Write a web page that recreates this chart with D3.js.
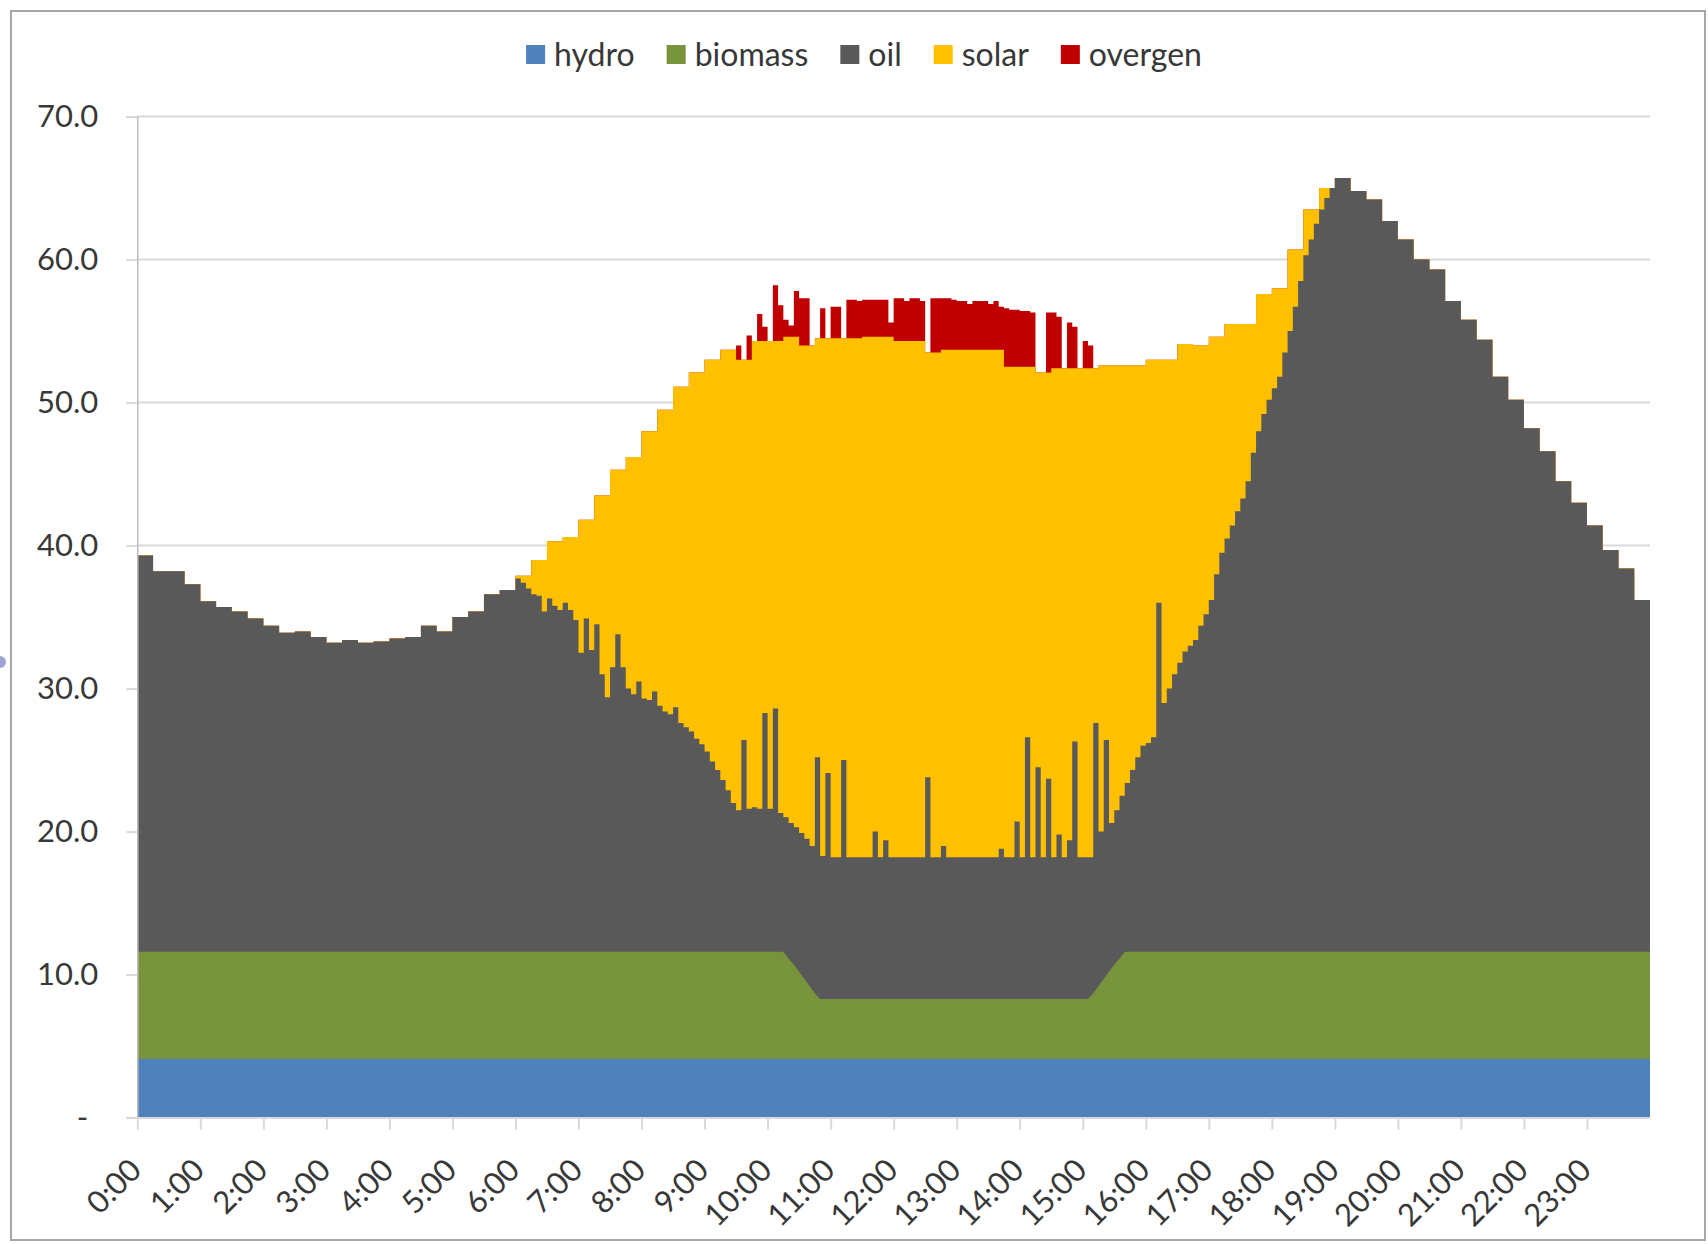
<!DOCTYPE html>
<html>
<head>
<meta charset="utf-8">
<script src="https://cdn.jsdelivr.net/npm/d3@7"></script>
<style>
  html, body { margin: 0; padding: 0; background: #fff; }
  text { font-family: Lato, "Open Sans", sans-serif; fill: #383838; }
</style>
</head>
<body>
<svg id="chart" width="1708" height="1244"></svg>
<script>
// hour tick labels
let hour_labels = ['0:00','1:00','2:00','3:00','4:00','5:00','6:00','7:00','8:00','9:00','10:00','11:00',
	'12:00','13:00','14:00','15:00','16:00','17:00','18:00','19:00','20:00','21:00','22:00','23:00'];

let series_keys = ['hydro', 'biomass', 'oil', 'solar', 'overgen'];

// hydro, one value per hour
let hydro = [4.1,4.1,4.1,4.1,4.1,4.1,4.1,4.1,4.1,4.1,4.1,4.1,4.1,4.1,4.1,4.1,4.1,4.1,4.1,4.1,4.1,4.1,4.1,4.1];

// biomass, 5-minute values (one row per hour)
let biomass = [
	7.5,7.5,7.5,7.5,7.5,7.5,7.5,7.5,7.5,7.5,7.5,7.5,
	7.5,7.5,7.5,7.5,7.5,7.5,7.5,7.5,7.5,7.5,7.5,7.5,
	7.5,7.5,7.5,7.5,7.5,7.5,7.5,7.5,7.5,7.5,7.5,7.5,
	7.5,7.5,7.5,7.5,7.5,7.5,7.5,7.5,7.5,7.5,7.5,7.5,
	7.5,7.5,7.5,7.5,7.5,7.5,7.5,7.5,7.5,7.5,7.5,7.5,
	7.5,7.5,7.5,7.5,7.5,7.5,7.5,7.5,7.5,7.5,7.5,7.5,
	7.5,7.5,7.5,7.5,7.5,7.5,7.5,7.5,7.5,7.5,7.5,7.5,
	7.5,7.5,7.5,7.5,7.5,7.5,7.5,7.5,7.5,7.5,7.5,7.5,
	7.5,7.5,7.5,7.5,7.5,7.5,7.5,7.5,7.5,7.5,7.5,7.5,
	7.5,7.5,7.5,7.5,7.5,7.5,7.5,7.5,7.5,7.5,7.5,7.5,
	7.5,7.5,7.5,7.5,7.0,6.6,6.1,5.6,5.1,4.6,4.2,4.2,
	4.2,4.2,4.2,4.2,4.2,4.2,4.2,4.2,4.2,4.2,4.2,4.2,
	4.2,4.2,4.2,4.2,4.2,4.2,4.2,4.2,4.2,4.2,4.2,4.2,
	4.2,4.2,4.2,4.2,4.2,4.2,4.2,4.2,4.2,4.2,4.2,4.2,
	4.2,4.2,4.2,4.2,4.2,4.2,4.2,4.2,4.2,4.2,4.2,4.2,
	4.2,4.2,4.6,5.1,5.6,6.1,6.6,7.0,7.5,7.5,7.5,7.5,
	7.5,7.5,7.5,7.5,7.5,7.5,7.5,7.5,7.5,7.5,7.5,7.5,
	7.5,7.5,7.5,7.5,7.5,7.5,7.5,7.5,7.5,7.5,7.5,7.5,
	7.5,7.5,7.5,7.5,7.5,7.5,7.5,7.5,7.5,7.5,7.5,7.5,
	7.5,7.5,7.5,7.5,7.5,7.5,7.5,7.5,7.5,7.5,7.5,7.5,
	7.5,7.5,7.5,7.5,7.5,7.5,7.5,7.5,7.5,7.5,7.5,7.5,
	7.5,7.5,7.5,7.5,7.5,7.5,7.5,7.5,7.5,7.5,7.5,7.5,
	7.5,7.5,7.5,7.5,7.5,7.5,7.5,7.5,7.5,7.5,7.5,7.5,
	7.5,7.5,7.5,7.5,7.5,7.5,7.5,7.5,7.5,7.5,7.5,7.5
];

// oil, 5-minute values (one row per hour)
let oil = [
	27.7,27.7,27.7,26.6,26.6,26.6,26.6,26.6,26.6,25.7,25.7,25.7,
	24.5,24.5,24.5,24.1,24.1,24.1,23.8,23.8,23.8,23.3,23.3,23.3,
	22.8,22.8,22.8,22.3,22.3,22.3,22.4,22.4,22.4,22.0,22.0,22.0,
	21.6,21.6,21.6,21.8,21.8,21.8,21.6,21.6,21.6,21.7,21.7,21.7,
	21.9,21.9,21.9,22.0,22.0,22.0,22.8,22.8,22.8,22.4,22.4,22.4,
	23.4,23.4,23.4,23.8,23.8,23.8,25.0,25.0,25.0,25.3,25.3,25.3,
	26.1,25.8,25.4,25.0,24.9,23.8,24.7,24.2,23.9,24.4,23.9,23.2,
	20.9,23.3,21.1,22.9,19.4,17.8,19.9,22.2,19.9,18.4,18.0,18.9,
	17.7,17.6,18.2,17.2,16.8,16.6,17.1,16.0,15.7,15.4,14.9,14.5,
	14.0,13.3,12.7,12.0,11.3,10.4,9.9,14.8,10.0,10.1,10.0,16.7,
	10.0,17.0,9.7,9.4,9.5,9.6,9.7,9.8,9.8,16.5,10.0,15.8,
	9.9,9.9,16.7,9.9,9.9,9.9,9.9,9.9,11.7,9.9,11.1,9.9,
	9.9,9.9,9.9,9.9,9.9,9.9,15.5,9.9,9.9,10.7,9.9,9.9,
	9.9,9.9,9.9,9.9,9.9,9.9,9.9,9.9,10.5,9.9,9.9,12.4,
	9.9,18.3,9.9,16.2,9.9,15.4,9.9,11.5,9.9,11.1,18.0,9.9,
	9.9,9.9,18.9,10.8,16.7,10.4,10.8,11.4,11.8,12.7,13.6,14.4,
	14.6,15.0,24.4,17.4,18.4,19.4,20.2,21.0,21.4,21.8,22.8,23.6,
	24.6,26.4,27.9,28.9,29.8,30.8,31.7,32.9,34.9,36.4,37.6,38.6,
	39.4,40.2,41.9,43.4,45.1,46.9,48.7,49.8,50.9,51.9,52.7,53.4,
	54.1,54.1,54.1,53.2,53.2,53.2,52.6,52.6,52.6,51.1,51.1,51.1,
	49.8,49.8,49.8,48.4,48.4,48.4,47.7,47.7,47.7,45.5,45.5,45.5,
	44.2,44.2,44.2,42.8,42.8,42.8,40.2,40.2,40.2,38.6,38.6,38.6,
	36.6,36.6,36.6,35.0,35.0,35.0,32.9,32.9,32.9,31.4,31.4,31.4,
	29.8,29.8,29.8,28.1,28.1,28.1,26.8,26.8,26.8,24.6,24.6,24.6
];

// total load, 15-minute values (one row per 4 hours); solar = load - hydro - biomass - oil
let load = [
	39.3,38.2,38.2,37.3, 36.1,35.7,35.4,34.9, 34.4,33.9,34.0,33.6, 33.2,33.4,33.2,33.3,
	33.5,33.6,34.4,34.0, 35.0,35.4,36.6,36.9, 37.9,39.0,40.3,40.6, 41.8,43.5,45.3,46.2,
	48.0,49.5,51.1,52.1, 53.0,53.7,53.0,54.3, 54.3,54.6,54.0,54.5, 54.5,54.5,54.6,54.6,
	54.3,54.3,53.5,53.7, 53.7,53.7,53.7,52.5, 52.5,52.1,52.4,52.4, 52.4,52.6,52.6,52.6,
	53.0,53.0,54.1,54.0, 54.6,55.5,55.5,57.6, 58.0,60.7,63.5,65.0, 65.7,64.8,64.2,62.7,
	61.4,60.0,59.3,57.1, 55.8,54.4,51.8,50.2, 48.2,46.6,44.5,43.0, 41.4,39.7,38.4,36.2
];

// overgeneration on top of load, 5-minute values (one row per hour)
let overgen = [
	0,0,0,0,0,0,0,0,0,0,0,0,
	0,0,0,0,0,0,0,0,0,0,0,0,
	0,0,0,0,0,0,0,0,0,0,0,0,
	0,0,0,0,0,0,0,0,0,0,0,0,
	0,0,0,0,0,0,0,0,0,0,0,0,
	0,0,0,0,0,0,0,0,0,0,0,0,
	0,0,0,0,0,0,0,0,0,0,0,0,
	0,0,0,0,0,0,0,0,0,0,0,0,
	0,0,0,0,0,0,0,0,0,0,0,0,
	0,0,0,0,0,0,1.0,0,1.7,0,1.9,1.0,
	0,3.9,2.5,1.2,0.8,3.2,3.3,3.3,0,0,2.1,0,
	2.2,2.2,0,2.7,2.7,2.6,2.6,2.6,2.6,2.6,2.6,1.0,
	3.0,3.0,2.8,3.0,3.0,2.8,0,3.8,3.8,3.6,3.6,3.5,
	3.4,3.4,3.2,3.4,3.4,3.4,3.2,3.4,3.0,4.1,4.0,4.0,
	3.9,3.9,3.8,0,0,4.2,3.9,3.6,0,3.2,2.9,0,
	1.9,1.6,0,0,0,0,0,0,0,0,0,0,
	0,0,0,0,0,0,0,0,0,0,0,0,
	0,0,0,0,0,0,0,0,0,0,0,0,
	0,0,0,0,0,0,0,0,0,0,0,0,
	0,0,0,0,0,0,0,0,0,0,0,0,
	0,0,0,0,0,0,0,0,0,0,0,0,
	0,0,0,0,0,0,0,0,0,0,0,0,
	0,0,0,0,0,0,0,0,0,0,0,0,
	0,0,0,0,0,0,0,0,0,0,0,0
];

let colors = {hydro: '#4f81bd', biomass: '#77933c', oil: '#595959', solar: '#ffc000', overgen: '#c00000'};
let plot = {left: 137.3, right: 1650, top: 116.6, bottom: 1117.6};
let axis_font = 31;
let legend_font = 32;

// build the 5-minute table
let rows = d3.range(oil.length).map(function(j) {
	let h = hydro[Math.floor(j / 12)];
	let b = biomass[j];
	let o = oil[j];
	let s = Math.max(0, +(load[Math.floor(j / 3)] - h - b - o).toFixed(2));
	return {t: j / 12, hydro: h, biomass: b, oil: o, solar: s, overgen: overgen[j]};
});
rows.push(Object.assign({}, rows[rows.length - 1], {t: 24}));

let stacked = d3.stack().keys(series_keys)(rows);

let x = d3.scaleLinear().domain([0, 24]).range([plot.left, plot.right]);
let y = d3.scaleLinear().domain([0, 70]).range([plot.bottom, plot.top]);

let svg = d3.select('#chart');

svg.append('rect')
	.attr('width', 1708).attr('height', 1244)
	.attr('fill', '#fff');

// chart frame
svg.append('rect')
	.attr('x', 11).attr('y', 11)
	.attr('width', 1694).attr('height', 1229)
	.attr('fill', 'none')
	.attr('stroke', '#a6a6a6')
	.attr('stroke-width', 2);

svg.append('circle')
	.attr('cx', 0).attr('cy', 662).attr('r', 6)
	.attr('fill', '#9ea2d4');

// gridlines
svg.append('g')
	.selectAll('line')
	.data(d3.range(10, 80, 10))
	.enter().append('line')
	.attr('x1', plot.left)
	.attr('x2', plot.right)
	.attr('y1', d => y(d))
	.attr('y2', d => y(d))
	.attr('stroke', '#d9d9d9')
	.attr('stroke-width', 2);

// areas, drawn from the top layer down, each one filled from zero
let curves = {hydro: d3.curveLinear, biomass: d3.curveLinear, oil: d3.curveStepAfter, solar: d3.curveStepAfter, overgen: d3.curveStepAfter};

svg.append('g')
	.selectAll('path')
	.data(stacked.slice().reverse())
	.enter().append('path')
	.attr('fill', d => colors[d.key])
	.attr('d', function(layer) {
		return d3.area()
			.curve(curves[layer.key])
			.x(d => x(d.data.t))
			.y0(y(0))
			.y1(d => y(d[1]))(layer);
	});

// y axis
let y_axis = svg.append('g')
	.attr('transform', `translate(${plot.left},0)`)
	.call(d3.axisLeft(y)
		.tickValues(d3.range(0, 80, 10))
		.tickSize(11)
		.tickPadding(28)
		.tickFormat(d => d === 0 ? '-' : d.toFixed(1)));

y_axis.select('.domain')
	.attr('stroke', '#bfbfbf')
	.attr('stroke-width', 1.5);
y_axis.selectAll('.tick line')
	.attr('stroke', '#d9d9d9')
	.attr('stroke-width', 2);
y_axis.selectAll('.tick text')
	.attr('font-size', axis_font)
	.attr('font-family', 'Lato')
	.attr('fill', '#383838')
	.attr('dx', d => d === 0 ? -10 : 0);

// x axis
let x_axis = svg.append('g')
	.attr('transform', `translate(0,${plot.bottom})`)
	.call(d3.axisBottom(x)
		.tickValues(d3.range(0, 24))
		.tickSize(12)
		.tickSizeOuter(0)
		.tickFormat(''));

x_axis.select('.domain')
	.attr('stroke', '#d9d9d9')
	.attr('stroke-width', 2);
x_axis.selectAll('.tick line')
	.attr('stroke', '#d9d9d9')
	.attr('stroke-width', 2);

svg.append('g')
	.selectAll('text')
	.data(hour_labels)
	.enter().append('text')
	.attr('transform', (d, i) => `translate(${x(i) + 6},1172) rotate(-45)`)
	.attr('text-anchor', 'end')
	.attr('font-size', axis_font)
	.text(d => d);

// legend
let legend = svg.append('g');
let lx = 0;
series_keys.forEach(function(k) {
	let g = legend.append('g').attr('transform', `translate(${lx},0)`);
	g.append('rect')
		.attr('y', -9.5)
		.attr('width', 19)
		.attr('height', 19)
		.attr('fill', colors[k]);
	let t = g.append('text')
		.attr('x', 28)
		.attr('dy', '0.35em')
		.attr('font-size', legend_font)
		.text(k);
	lx += 28 + t.node().getComputedTextLength() + 32;
});
lx -= 32;
legend.attr('transform', `translate(${864 - lx / 2},54.5)`);
</script>
</body>
</html>
